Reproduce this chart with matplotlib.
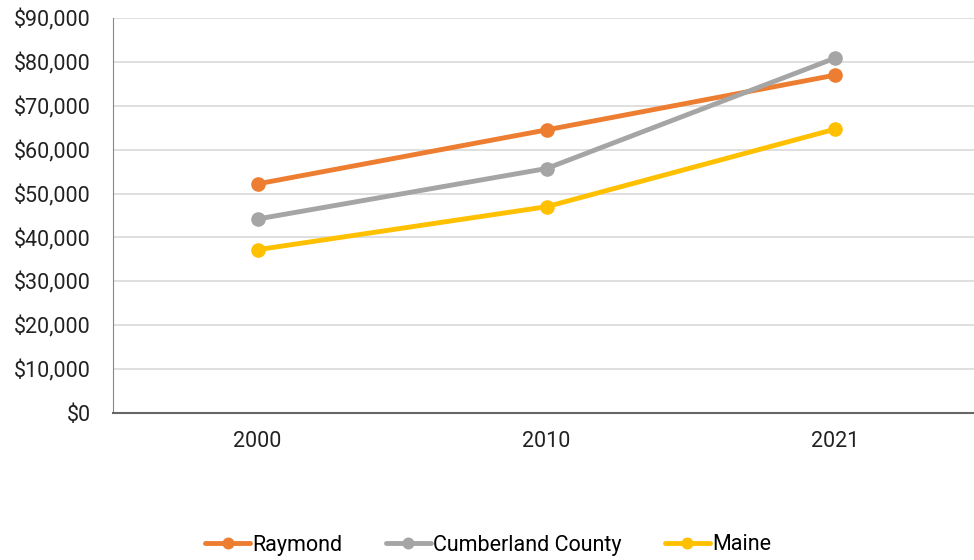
import matplotlib.pyplot as plt
from matplotlib.ticker import FuncFormatter

plt.rcParams['font.family'] = ['Roboto', 'DejaVu Sans']

years = ["2000", "2010", "2021"]
raymond = [52200, 64500, 77000]
cumberland = [44200, 55700, 80900]
maine = [37200, 47000, 64700]

colours = {"Raymond": "#ED7D31", "Cumberland County": "#A5A5A5", "Maine": "#FFC000"}

fig = plt.figure(figsize=(9.74, 5.6), dpi=100)
# right edge of the plot runs past the image, as in the reference
ax = fig.add_axes([113 / 974, 1 - 413 / 560, 867 / 974, 395 / 560])

x = list(range(len(years)))
for name, vals in [("Raymond", raymond), ("Cumberland County", cumberland), ("Maine", maine)]:
    ax.plot(x, vals, color=colours[name], lw=3.5, marker="o", ms=9.5, label=name,
            solid_capstyle="round", zorder=3)

ax.set_xlim(-0.5, 2.5)
ax.set_ylim(0, 90000)
ax.set_yticks(range(0, 90001, 10000))
ax.yaxis.set_major_formatter(FuncFormatter(lambda v, p: "${:,.0f}".format(v)))
ax.set_xticks(x)
ax.set_xticklabels(years)

ax.grid(axis="y", color="#D9D9D9", lw=1.2)
ax.set_axisbelow(True)
for s in ["top", "right"]:
    ax.spines[s].set_visible(False)
ax.spines["left"].set_color("#888888")
ax.spines["bottom"].set_color("#666666")
ax.spines["bottom"].set_linewidth(1.5)
ax.tick_params(axis="both", length=0, labelsize=15.5, colors="#222222")
ax.tick_params(axis="y", pad=16)
ax.tick_params(axis="x", pad=13)

fig.legend(loc="center", bbox_to_anchor=(488 / 974, 1 - 545 / 560), ncol=3, frameon=False,
           fontsize=15.5, handlelength=2.1, columnspacing=2.0, handletextpad=0.1, markerscale=0.8)

fig.savefig("out.png", dpi=100)
